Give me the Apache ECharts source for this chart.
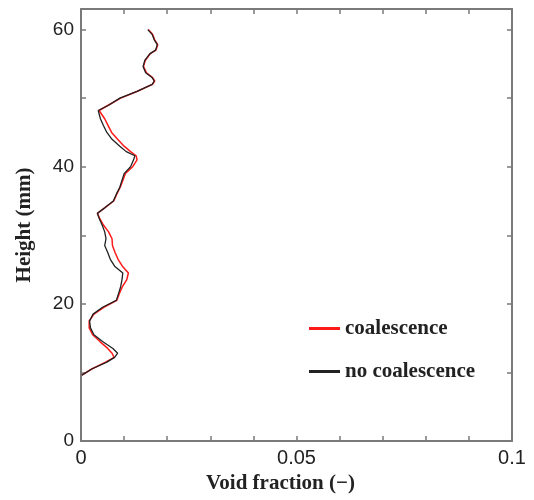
<!DOCTYPE html>
<html>
<head>
<meta charset="utf-8">
<script src="https://cdn.jsdelivr.net/npm/echarts@6/dist/echarts.min.js"></script>
<style>html,body{margin:0;padding:0;background:#fff}#c{width:534px;height:500px}</style>
</head>
<body>
<div id="c"></div>
<script>
var heights = [9.6, 10.5, 11.5, 12.2, 12.8, 13.5, 14.5, 15.5, 16.5, 17.5, 18.5, 19.5, 20.5, 21.5, 22.5, 23.5, 24.5, 25.5, 26.5, 27.5, 28.5, 29.5, 30.5, 31.5, 32.5, 33.2, 34, 35, 36, 37, 38, 39, 40, 41, 41.6, 42.2, 43, 44, 45, 46, 47, 48.2, 49, 50, 51, 52, 52.5, 53, 53.7, 54.6, 55.5, 56.5, 57, 57.8, 58.5, 59.3, 60];
var noCoalescence = [.0002, .0025, .006, .0078, .0085, .0074, .005, .003, .0022, .002, .0028, .005, .0082, .0087, .0092, .0095, .0097, .0078, .0068, .0062, .0055, .0058, .0055, .0049, .0042, .0038, .0055, .0075, .0082, .009, .0095, .0100, .0115, .0122, .0125, .0105, .009, .0072, .006, .0052, .0045, .004, .0065, .009, .013, .0165, .017, .0165, .015, .0144, .0148, .016, .0173, .0177, .017, .0165, .0155];
var coalescence = [.0002, .0025, .0057, .0077, .0072, .0062, .0044, .0027, .0019, .0019, .003, .0053, .0083, .0089, .0096, .0106, .011, .0096, .0086, .0079, .0073, .0072, .0064, .0052, .0043, .0038, .0055, .0076, .0083, .0091, .0097, .0103, .012, .0130, .0128, .0115, .0100, .0085, .0071, .0063, .0055, .0042, .0064, .0092, .0131, .0166, .0171, .0166, .0152, .0145, .0149, .0161, .0174, .0178, .0171, .0166, .0156];
var seriesNames = ['coalescence', 'no coalescence'];
var xLabels = [0, 0.05, 0.1];
var yLabels = [0, 20, 40, 60];

function pairs(vals) { return vals.map(function (v, i) { return [v, heights[i]]; }); }
function near(v, list) { return list.some(function (l) { return Math.abs(v - l) < 1e-9; }); }

var axisLine = { show: true, onZero: false, lineStyle: { color: '#7a7a7a', width: 2 } };
var tick = { show: true, inside: true, length: 5, lineStyle: { color: '#7a7a7a', width: 1.5 } };
var chart = echarts.init(document.getElementById('c'));
chart.setOption({
  animation: false,
  grid: { left: 81, right: 22, top: 9, bottom: 59 },
  legend: {
    orient: 'vertical', left: 304, top: 313, itemWidth: 31, itemHeight: 3, itemGap: 22,
    icon: 'rect',
    textStyle: { fontFamily: 'Liberation Serif', fontWeight: 'bold', fontSize: 21, color: '#222' },
    data: seriesNames
  },
  xAxis: [{
    type: 'value', min: 0, max: 0.1, interval: 0.01,
    name: 'Void fraction (\u2212)', nameLocation: 'middle', nameGap: 25,
    nameTextStyle: { fontFamily: 'Liberation Serif', fontWeight: 'bold', fontSize: 21, color: '#222', padding: [0, 32, 0, 0] },
    axisLine: axisLine, axisTick: tick, splitLine: { show: false },
    axisLabel: { margin: 7, fontFamily: 'Liberation Sans', fontSize: 20, color: '#222',
      formatter: function (v) { return near(v, xLabels) ? String(Math.round(v * 100) / 100) : ''; } }
  }, {
    type: 'value', position: 'top', min: 0, max: 0.1, interval: 0.01,
    axisLine: axisLine, axisTick: tick, axisLabel: { show: false }, splitLine: { show: false }
  }],
  yAxis: [{
    type: 'value', min: 0, max: 63, interval: 10,
    name: 'Height (mm)', nameLocation: 'middle', nameGap: 46,
    nameTextStyle: { fontFamily: 'Liberation Serif', fontWeight: 'bold', fontSize: 21, color: '#222' },
    axisLine: axisLine, axisTick: tick, splitLine: { show: false },
    axisLabel: { margin: 7, fontFamily: 'Liberation Sans', fontSize: 19, color: '#222',
      formatter: function (v) { return near(v, yLabels) ? String(v) : ''; } }
  }, {
    type: 'value', position: 'right', min: 0, max: 63, interval: 10,
    axisLine: axisLine, axisTick: tick, axisLabel: { show: false }, splitLine: { show: false }
  }],
  series: [{
    name: seriesNames[0], type: 'line', data: pairs(coalescence), showSymbol: false, symbol: 'none',
    itemStyle: { color: '#ff1a1a' }, lineStyle: { color: '#ff1a1a', width: 1.5 }
  }, {
    name: seriesNames[1], type: 'line', data: pairs(noCoalescence), showSymbol: false, symbol: 'none',
    itemStyle: { color: '#222' }, lineStyle: { color: '#222', width: 1.3 }
  }]
});
</script>
</body>
</html>
